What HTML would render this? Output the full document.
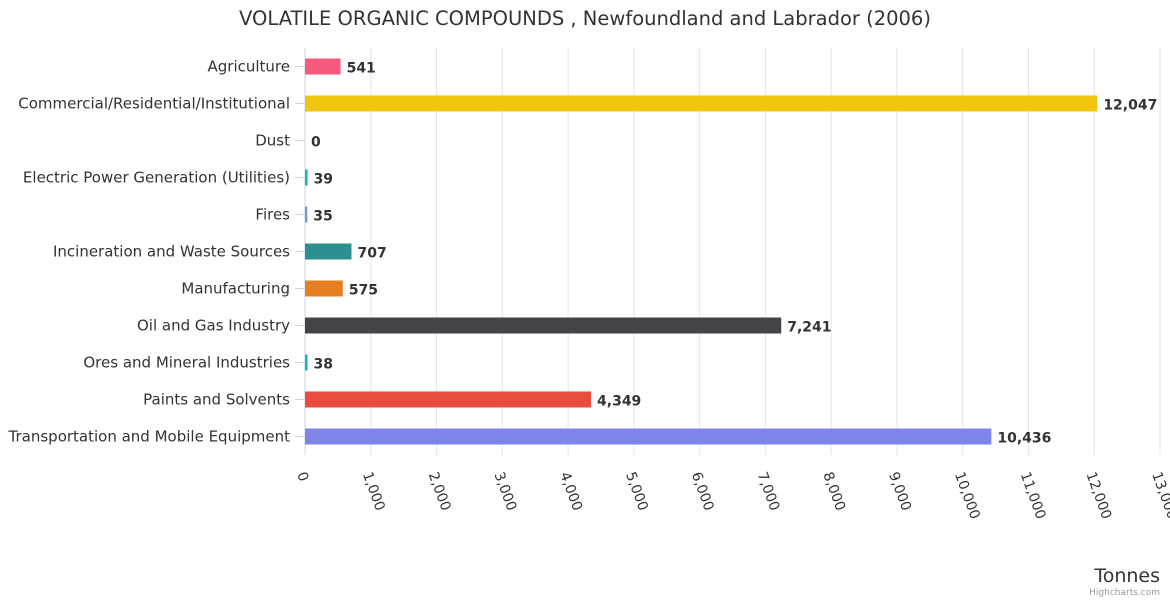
<!DOCTYPE html>
<html><head><meta charset="utf-8"><style>
body{margin:0;background:#fff;}
svg{font-family:"DejaVu Sans","Liberation Sans",sans-serif;display:block}
</style></head><body>
<svg id="c" width="1170" height="600">
<text x="585" y="25" text-anchor="middle" font-size="19.5" fill="#333">VOLATILE ORGANIC COMPOUNDS , Newfoundland and Labrador (2006)</text>
<g id="grid"></g><g id="bars"></g><g id="xlab"></g><g id="ylab"></g>
<text x="1160" y="582" text-anchor="end" font-size="19" fill="#333">Tonnes</text>
<text x="1160" y="595" text-anchor="end" font-size="9" fill="#999">Highcharts.com</text>
</svg>
<script>
const categories=["Agriculture","Commercial/Residential/Institutional","Dust","Electric Power Generation (Utilities)","Fires","Incineration and Waste Sources","Manufacturing","Oil and Gas Industry","Ores and Mineral Industries","Paints and Solvents","Transportation and Mobile Equipment"];
const values=[541,12047,0,39,35,707,575,7241,38,4349,10436];
const colors=["#f45b7d","#f1c40f","#2b908f","#1abc9c","#7798bf","#2b908f","#e67e22","#434348","#17b2b2","#e74c3c","#8085e9"];
const ticks=[0,1000,2000,3000,4000,5000,6000,7000,8000,9000,10000,11000,12000,13000];
const NS="http://www.w3.org/2000/svg";
const x0=305,x1=1160,xmax=13000,yTop=48,step=37;
const xs=v=>x0+v/xmax*(x1-x0);
const ys=i=>yTop+step*i+step/2;
function mk(t,a,p){const e=document.createElementNS(NS,t);for(const k in a)e.setAttribute(k,a[k]);document.getElementById(p).appendChild(e);return e;}
ticks.forEach((t,i)=>{
 const g=mk("line",{x1:xs(t),x2:xs(t),y1:yTop,y2:455,stroke:i==0?"#ccd6eb":"#e6e6e6"},"grid");
 
 
 const X=xs(t)-8, Y=474;
 const l=mk("text",{x:X,y:Y,transform:`rotate(70 ${X} ${Y})`,"font-size":"14",fill:"#333"},"xlab");
 l.textContent=t.toLocaleString("en-US");
 
 
});
categories.forEach((c,i)=>{
 const y=ys(i);
 const tk=mk("line",{x1:295,x2:305,y1:y,y2:y,stroke:"#ccd6eb"},"ylab");
 
 
 const l=mk("text",{x:290,y:y+5,"text-anchor":"end","font-size":"15",fill:"#333"},"ylab");
 l.textContent=c;
 
 
 const w=Math.max(xs(values[i])-x0,values[i]>0?2:0);
 const b=mk("rect",{x:x0,y:y-8,width:w,height:16,fill:colors[i]},"bars");
 
 
 const v=mk("text",{x:x0+w+6,y:y+6,"font-size":"14","font-weight":"bold",fill:"#333"},"bars");
 v.textContent=values[i].toLocaleString("en-US");
 
 
});
</script>
</body></html>
